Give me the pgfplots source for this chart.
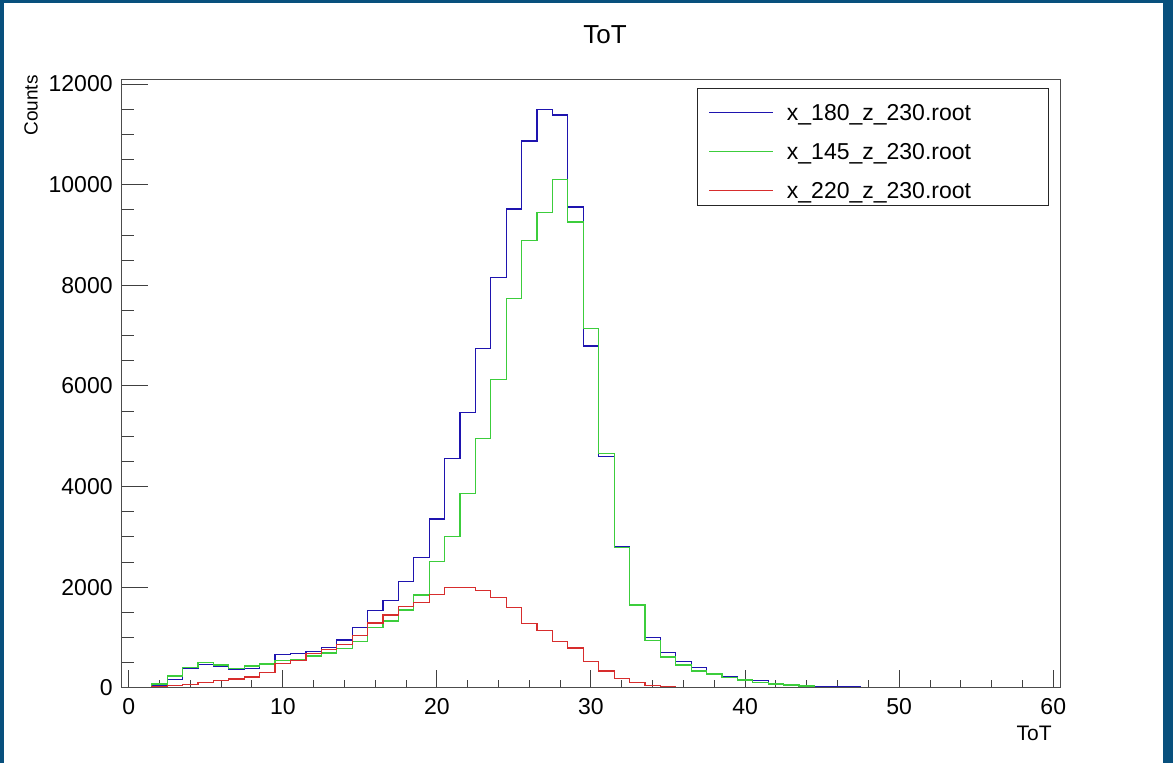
\documentclass[border=0pt]{standalone}
\usepackage{fontspec}
\setmainfont{Liberation Sans}
\usepackage{pgfplots}
\pgfplotsset{compat=1.18}
\usepackage{pgfplotstable}
\definecolor{rootblue}{RGB}{30,20,175}
\definecolor{rootgreen}{RGB}{60,205,60}
\definecolor{rootred}{RGB}{215,45,45}
\definecolor{rootframe}{RGB}{8,80,125}

\pgfplotstableread{
x b g r
-0.5 0 0 0
0.5 5 15 5
1.5 40 80 20
2.5 165 238 45
3.5 390 410 75
4.5 470 505 105
5.5 437 457 145
6.5 377 390 180
7.5 395 437 220
8.5 460 477 300
9.5 669 543 480
10.5 682 556 550
11.5 720 635 680
12.5 805 695 760
13.5 954 790 870
14.5 1195 920 1040
15.5 1545 1200 1290
16.5 1742 1331 1450
17.5 2113 1550 1615
18.5 2596 1848 1700
19.5 3358 2510 1860
20.5 4564 3006 2000
21.5 5473 3868 1990
22.5 6750 4961 1940
23.5 8161 6134 1800
24.5 9518 7736 1600
25.5 10869 8888 1285
26.5 11499 9444 1150
27.5 11385 10108 920
28.5 9557 9260 795
29.5 6795 7140 530
30.5 4596 4663 338
31.5 2810 2790 185
32.5 1663 1650 106
33.5 1000 940 50
34.5 700 615 20
35.5 530 457 10
36.5 411 338 5
37.5 291 278 0
38.5 225 212 0
39.5 159 159 0
40.5 146 113 0
41.5 93 80 0
42.5 50 60 0
43.5 35 40 0
44.5 20 15 0
45.5 20 5 0
46.5 20 5 0
47.5 10 10 0
48.5 5 10 0
49.5 5 10 0
50.5 15 5 0
51.5 15 5 0
52.5 5 10 0
53.5 5 10 0
54.5 5 10 0
55.5 15 0 0
56.5 15 0 0
57.5 5 0 0
58.5 0 0 0
59.5 0 0 0
60.5 0 0 0
}\histdata

\begin{document}
\begin{tikzpicture}[x=1pt,y=1pt]
\useasboundingbox (0,0) rectangle (586.5,381.5);
\fill[rootframe] (0,0) rectangle (586.5,381.5);
\fill[white] (1.75,0) rectangle (581.5,379.75);

% axis with x ticks and the histograms
\begin{axis}[
  at={(60.5pt,37.5pt)}, anchor=south west,
  scale only axis, width=470pt, height=304pt,
  xmin=-0.5, xmax=60.5, ymin=0, ymax=12080,
  xtick={0,10,...,60}, minor x tick num=4, ytick=\empty,
  tick pos=left, tick align=inside,
  major tick length=9pt, minor tick length=4pt,
  axis line style={black!70, line width=0.5pt},
  every tick/.style={black!75, line width=0.5pt},
  xticklabel style={font=\fontsize{11.5}{12}\selectfont, inner sep=0pt, yshift=-5pt},
  /pgf/number format/assume math mode=true,
  legend style={at={(rel axis cs:0.613,0.987)}, anchor=north west,
    draw=black!85, line width=0.5pt, fill=white,
    inner xsep=5.5pt, inner ysep=0pt, row sep=0pt, column sep=4.5pt,
    font=\fontsize{11.5}{13}\selectfont, cells={anchor=west}},
  legend image code/.code={\draw[#1] (0pt,-2.5pt) -- (32pt,-2.5pt);},
]
\addplot[const plot, rootblue, line width=0.6pt] table[x=x, y=b] {\histdata};
\addlegendentry{\makebox[123.5pt][l]{\rule[-5.5pt]{0pt}{19.5pt}x\_180\_z\_230.root}}
\addplot[const plot, rootgreen, line width=0.6pt] table[x=x, y=g] {\histdata};
\addlegendentry{\makebox[123.5pt][l]{\rule[-5.5pt]{0pt}{19.5pt}x\_145\_z\_230.root}}
\addplot[const plot, rootred, line width=0.6pt] table[x=x, y=r] {\histdata};
\addlegendentry{\makebox[123.5pt][l]{\rule[-5.5pt]{0pt}{19.5pt}x\_220\_z\_230.root}}
\end{axis}

% axis with y ticks
\begin{axis}[
  at={(60.5pt,37.5pt)}, anchor=south west,
  scale only axis, width=470pt, height=304pt,
  xmin=-0.5, xmax=60.5, ymin=0, ymax=12080,
  xtick=\empty, ytick={0,2000,...,12000}, minor y tick num=3,
  tick pos=left, tick align=inside,
  major tick length=13.5pt, minor tick length=6.5pt,
  axis line style={black!70, line width=0.5pt},
  every tick/.style={black!75, line width=0.5pt},
  yticklabel style={font=\fontsize{11.5}{12}\selectfont, inner sep=0pt, xshift=-4pt},
  scaled y ticks=false,
  /pgf/number format/assume math mode=true,
  /pgf/number format/1000 sep={},
]
\end{axis}

\node[font=\fontsize{13}{15}\selectfont] at (302.5,364) {ToT};
\node[rotate=90, anchor=east, inner sep=0pt, font=\fontsize{9.5}{11}\selectfont] at (15.5,344) {Counts};
\node[anchor=east, inner sep=0pt, font=\fontsize{10.5}{12}\selectfont] at (526,15) {ToT};
\end{tikzpicture}
\end{document}
